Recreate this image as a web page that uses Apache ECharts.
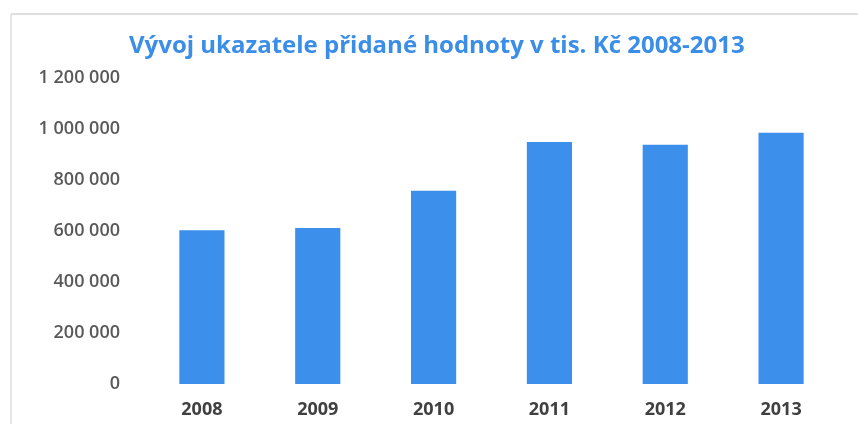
<!DOCTYPE html>
<html>
<head>
<meta charset="utf-8">
<script src="https://cdn.jsdelivr.net/npm/echarts@6/dist/echarts.min.js"></script>
<style>
  html, body { margin: 0; padding: 0; background: #fff; }
  #chart { width: 858px; height: 424px; }
</style>
</head>
<body>
<div id="chart"></div>
<script>
// data
var years = ['2008', '2009', '2010', '2011', '2012', '2013'];
var values = [603000, 612000, 758000, 949000, 938000, 985000];
var titleText = 'Vývoj ukazatele přidané hodnoty v tis. Kč 2008-2013';

// "1 200 000" style labels
function fmt(v) {
  return String(v).replace(/\B(?=(\d{3})+(?!\d))/g, ' ');
}

var chart = echarts.init(document.getElementById('chart'));

var option = {
  backgroundColor: '#fff',
  animation: false,
  title: {
    text: titleText,
    left: 124,
    top: 29,
    textStyle: {
      color: '#3a8ee8',
      fontFamily: 'Open Sans',
      fontWeight: 'bold',
      fontSize: 24
    }
  },
  grid: {
    left: 144,
    right: 19,
    top: 78,
    bottom: 40
  },
  xAxis: {
    type: 'category',
    data: years,
    axisLine: { show: false },
    axisTick: { show: false },
    axisLabel: {
      color: '#404040',
      fontFamily: 'Open Sans',
      fontWeight: 'bold',
      fontSize: 18,
      margin: 17
    }
  },
  yAxis: {
    type: 'value',
    min: 0,
    max: 1200000,
    interval: 200000,
    splitLine: { show: false },
    axisLine: { show: false },
    axisTick: { show: false },
    axisLabel: {
      color: '#595959',
      fontFamily: 'Open Sans',
      fontWeight: 600,
      fontSize: 18,
      margin: 24,
      formatter: fmt
    }
  },
  series: [{
    type: 'bar',
    data: values,
    barWidth: '39%',
    itemStyle: { color: '#3d8fec' }
  }],
  graphic: [
    // faint frame at top and left like the scanned original
    { type: 'line', shape: { x1: 11, y1: 14, x2: 858, y2: 14 },
      style: { stroke: '#d4d4d4', lineWidth: 1.5 } },
    { type: 'line', shape: { x1: 11, y1: 14, x2: 11, y2: 424 },
      style: { stroke: '#dcdcdc', lineWidth: 1.5 } }
  ]
};

chart.setOption(option);
</script>
</body>
</html>
